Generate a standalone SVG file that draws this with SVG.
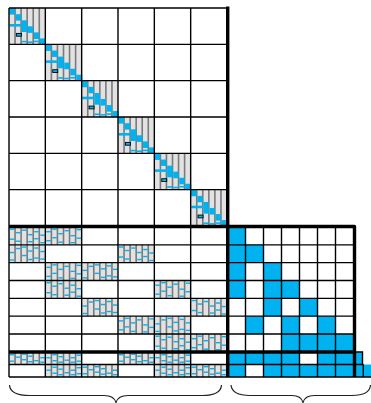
<svg xmlns="http://www.w3.org/2000/svg" width="371" height="403" viewBox="0 0 371 403">
<style>
.bg{fill:#e2e2e2}
.st{stroke:#7a7a7a;stroke-width:1.6;fill:none}
.b{fill:#00b2f0}
.grid{stroke:#000;stroke-width:1.4;fill:none}
.thick{stroke:#000;stroke-width:3.4;fill:none;stroke-linejoin:round}
.cell{fill:#00b2f0}
.brace{fill:none;stroke:#222;stroke-width:1.2}
</style>
<defs>
<g id="diag">
<rect class="bg" width="36.33" height="36.33"/>
<path class="st" d="M6.06 0V36.33M12.11 0V36.33M18.17 0V36.33M24.22 0V36.33M30.28 0V36.33"/>
<rect class="b" x="0.4" y="0" width="5.6" height="6.6"/>
<rect class="b" x="6.7" y="6.2" width="5.4" height="6.4"/>
<rect class="b" x="12.8" y="12.3" width="5.4" height="11.7"/>
<rect class="b" x="18.9" y="18.3" width="5.4" height="6.6"/>
<rect class="b" x="24.9" y="24.4" width="5.4" height="6.6"/>
<rect class="b" x="30.9" y="30.4" width="6" height="6.3"/>
<rect class="b" x="0.6" y="16" width="12" height="2.6"/>
<rect x="7.4" y="25.4" width="5" height="2.8" fill="#00b2f0" stroke="#000" stroke-width="0.9"/>
<rect class="b" x="12.8" y="32.8" width="5.4" height="1.6"/>
<rect class="b" x="18.9" y="33.4" width="5.4" height="1.6"/>
<rect class="b" x="24.9" y="32.6" width="5.4" height="1.6"/>
</g>
<path id="st18" class="st" d="M6.06 0V17.83M12.11 0V17.83M18.17 0V17.83M24.22 0V17.83M30.28 0V17.83"/>
<path id="st12" class="st" d="M6.06 0V12.5M12.11 0V12.5M18.17 0V12.5M24.22 0V12.5M30.28 0V12.5"/>
<g id="lbA">
<rect class="bg" width="36.33" height="17.83"/><use href="#st18"/>
<g class="b"><rect x="1" y="1.5" width="4.4" height="1.4"/><rect x="1" y="11.5" width="4.4" height="1.4"/><rect x="7.06" y="5" width="4.4" height="1.4"/><rect x="7.06" y="13.5" width="4.4" height="1.4"/><rect x="13.1" y="2.5" width="4.4" height="1.4"/><rect x="19.2" y="7" width="4.4" height="1.4"/><rect x="19.2" y="14" width="4.4" height="1.4"/><rect x="25.2" y="4" width="4.4" height="1.4"/><rect x="25.2" y="11" width="4.4" height="1.4"/><rect x="31.3" y="7.5" width="4.4" height="1.4"/><rect x="31.3" y="15" width="4.4" height="1.4"/></g>
</g>
<g id="lbB">
<rect class="bg" width="36.33" height="17.83"/><use href="#st18"/>
<g class="b"><rect x="1" y="4" width="4.4" height="1.4"/><rect x="1" y="13" width="4.4" height="1.4"/><rect x="7.06" y="1.5" width="4.4" height="1.4"/><rect x="7.06" y="10" width="4.4" height="1.4"/><rect x="13.1" y="6" width="4.4" height="1.4"/><rect x="13.1" y="14.5" width="4.4" height="1.4"/><rect x="19.2" y="3" width="4.4" height="1.4"/><rect x="25.2" y="8" width="4.4" height="1.4"/><rect x="25.2" y="15" width="4.4" height="1.4"/><rect x="31.3" y="2" width="4.4" height="1.4"/><rect x="31.3" y="10.5" width="4.4" height="1.4"/></g>
</g>
<g id="lbC">
<rect class="bg" width="36.33" height="17.83"/><use href="#st18"/>
<g class="b"><rect x="1" y="7" width="4.4" height="1.4"/><rect x="1" y="14.5" width="4.4" height="1.4"/><rect x="7.06" y="3" width="4.4" height="1.4"/><rect x="13.1" y="1.5" width="4.4" height="1.4"/><rect x="13.1" y="10" width="4.4" height="1.4"/><rect x="19.2" y="5.5" width="4.4" height="1.4"/><rect x="19.2" y="14" width="4.4" height="1.4"/><rect x="25.2" y="2.5" width="4.4" height="1.4"/><rect x="25.2" y="12.5" width="4.4" height="1.4"/><rect x="31.3" y="6" width="4.4" height="1.4"/><rect x="31.3" y="13.5" width="4.4" height="1.4"/></g>
</g>
<g id="sbA">
<rect class="bg" width="36.33" height="12.5"/><use href="#st12"/>
<g class="b"><rect x="1" y="2" width="4.4" height="1.4"/><rect x="1" y="8.5" width="4.4" height="1.4"/><rect x="7.06" y="4.5" width="4.4" height="1.4"/><rect x="13.1" y="1.5" width="4.4" height="1.4"/><rect x="13.1" y="7" width="4.4" height="1.4"/><rect x="19.2" y="3.5" width="4.4" height="1.4"/><rect x="19.2" y="9" width="4.4" height="1.4"/><rect x="25.2" y="8" width="4.4" height="1.4"/><rect x="31.3" y="5" width="4.4" height="1.4"/><rect x="31.3" y="9.5" width="4.4" height="1.4"/></g>
</g>
<g id="sbB">
<rect class="bg" width="36.33" height="12.5"/><use href="#st12"/>
<g class="b"><rect x="1" y="5" width="4.4" height="1.4"/><rect x="7.06" y="2" width="4.4" height="1.4"/><rect x="7.06" y="8" width="4.4" height="1.4"/><rect x="13.1" y="4" width="4.4" height="1.4"/><rect x="13.1" y="9.5" width="4.4" height="1.4"/><rect x="19.2" y="7.5" width="4.4" height="1.4"/><rect x="25.2" y="5" width="4.4" height="1.4"/><rect x="25.2" y="9.5" width="4.4" height="1.4"/><rect x="31.3" y="2.5" width="4.4" height="1.4"/><rect x="31.3" y="8.5" width="4.4" height="1.4"/></g>
</g>
</defs>

<g id="diagonal-blocks">
<use href="#diag" x="9" y="8"/>
<use href="#diag" x="45.33" y="44.33"/>
<use href="#diag" x="81.67" y="80.67"/>
<use href="#diag" x="118" y="117"/>
<use href="#diag" x="154.33" y="153.33"/>
<use href="#diag" x="190.67" y="189.67"/>
</g>

<g id="lower-left-blocks">
<use href="#lbA" x="9" y="227"/><use href="#lbB" x="45.33" y="227"/>
<use href="#lbC" x="9" y="244.83"/><use href="#lbA" x="118" y="244.83"/>
<use href="#lbB" x="45.33" y="262.67"/><use href="#lbC" x="81.67" y="262.67"/>
<use href="#lbA" x="45.33" y="280.5"/><use href="#lbB" x="154.33" y="280.5"/>
<use href="#lbC" x="81.67" y="298.33"/><use href="#lbA" x="190.67" y="298.33"/>
<use href="#lbB" x="118" y="316.17"/><use href="#lbC" x="154.33" y="316.17"/>
<use href="#lbA" x="154.33" y="334"/><use href="#lbB" x="190.67" y="334"/>
<use href="#sbA" x="9" y="352"/><use href="#sbB" x="45.33" y="352"/><use href="#sbA" x="118" y="352"/><use href="#sbB" x="154.33" y="352"/>
<use href="#sbB" x="45.33" y="364.5"/><use href="#sbA" x="81.67" y="364.5"/><use href="#sbB" x="154.33" y="364.5"/><use href="#sbA" x="190.67" y="364.5"/>
</g>

<g id="lower-right-cells" class="cell">
<rect x="227.5" y="227" width="18" height="17.83"/>
<rect x="227.5" y="244.83" width="18" height="17.83"/><rect x="245.5" y="244.83" width="18" height="17.83"/>
<rect x="227.5" y="262.67" width="18" height="17.83"/><rect x="263.5" y="262.67" width="18" height="17.83"/>
<rect x="227.5" y="280.5" width="18" height="17.83"/><rect x="263.5" y="280.5" width="18" height="17.83"/><rect x="281.5" y="280.5" width="18" height="17.83"/>
<rect x="263.5" y="298.33" width="18" height="17.83"/><rect x="299.5" y="298.33" width="18" height="17.83"/>
<rect x="245.5" y="316.17" width="18" height="17.83"/><rect x="281.5" y="316.17" width="18" height="17.83"/><rect x="317.5" y="316.17" width="18" height="17.83"/>
<rect x="281.5" y="334" width="72" height="18"/>
<rect x="227.5" y="352" width="72" height="12.5"/><rect x="317.5" y="352" width="45" height="12.5"/>
<rect x="227.5" y="364.5" width="18" height="12.5"/><rect x="263.5" y="364.5" width="107.5" height="12.5"/>
</g>

<g id="grid" class="grid">
<path d="M9 8H227M9 44.33H227M9 80.67H227M9 117H227M9 153.33H227M9 189.67H227"/>
<path d="M9 8V377M45.33 8V377M81.67 8V377M118 8V377M154.33 8V377M190.67 8V377"/>
<path d="M9 244.83H354M9 262.67H354M9 280.5H354M9 298.33H354M9 316.17H354M9 334H354M9 364.5H363.3M9 377H371"/>
<path d="M245.5 227V377M263.5 227V377M281.5 227V377M299.5 227V377M317.5 227V377M335.5 227V377"/>
<path d="M356 352H362.5V364.5M363.3 364.5V377"/>
</g>

<g id="thick-lines" class="thick">
<path d="M227.7 6.5V377"/>
<path d="M9 226.5H354.5V377"/>
<path d="M9 352H354.5"/>
</g>

<g id="braces" class="brace">
<path d="M9.5 385Q10 395.5 30 395.5L104 395.5Q114 395.5 116 402.5Q118 395.5 128 395.5L202 395.5Q221 395.5 221.5 385"/>
<path d="M231 385Q232 395.5 250 395.5L292 395.5Q301 395.5 303 402.5Q305 395.5 314 395.5L352 395.5Q370 395.5 370.5 385"/>
</g>
</svg>
